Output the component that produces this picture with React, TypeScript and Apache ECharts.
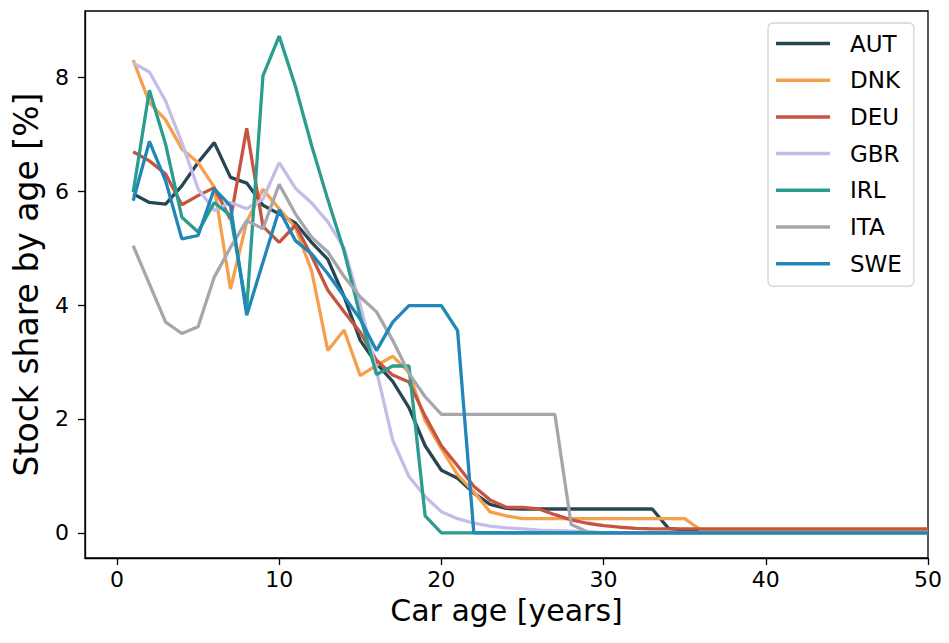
import React, { useEffect, useRef } from "react";
import * as echarts from "echarts";

const ages: number[] = Array.from({ length: 50 }, (_, i) => i + 1);

const countries = ["AUT", "DNK", "DEU", "GBR", "IRL", "ITA", "SWE"];

const AUT = [5.95, 5.8, 5.77, 6.09, 6.5, 6.85, 6.24, 6.14, 5.75, 5.6, 5.44, 5.1, 4.8, 4.15, 3.38, 2.97, 2.66, 2.2, 1.53, 1.1, 0.96, 0.7, 0.5, 0.43,
  0.42, 0.42, 0.42, 0.42, 0.42, 0.42, 0.42, 0.42, 0.42, 0.08,
  0.05, 0.05, 0.05, 0.05, 0.05, 0.05, 0.05, 0.05, 0.05, 0.05, 0.05, 0.05, 0.05, 0.05, 0.05, 0.05];
const DNK = [8.3, 7.55, 7.25, 6.74, 6.5, 6.07, 4.28, 5.46, 6.03, 5.69, 5.36, 4.6, 3.2, 3.56, 2.76, 2.94, 3.1, 2.82, 1.97, 1.48, 1.02, 0.72, 0.37, 0.3,
  0.25, 0.25, 0.25, 0.25, 0.25, 0.25, 0.25, 0.25, 0.25, 0.25, 0.25,
  0.05, 0.05, 0.05, 0.05, 0.05, 0.05, 0.05, 0.05, 0.05, 0.05, 0.05, 0.05, 0.05, 0.05, 0.05];
const DEU = [6.69, 6.53, 6.3, 5.76, 5.92, 6.06, 5.5, 7.1, 5.38, 5.1, 5.4, 4.86, 4.26, 3.88, 3.52, 3.03, 2.77, 2.65, 2.05, 1.53, 1.18, 0.82, 0.58, 0.45,
  0.45, 0.42, 0.32, 0.23, 0.17, 0.13, 0.1, 0.08,
  0.07, 0.07, 0.07, 0.07, 0.07, 0.07, 0.07, 0.07, 0.07, 0.07, 0.07, 0.07, 0.07, 0.07, 0.07, 0.07, 0.07, 0.07];
const GBR = [8.25, 8.09, 7.58, 6.85, 6.04, 5.66, 5.8, 5.69, 5.86, 6.5, 6.05, 5.79, 5.46, 5.0, 4.0, 2.85, 1.63, 0.99, 0.64, 0.37, 0.25, 0.17, 0.12, 0.09,
  0.07, 0.05, 0.04, 0.03, 0.02,
  0, 0, 0, 0, 0, 0, 0, 0, 0, 0, 0, 0, 0, 0, 0, 0, 0, 0, 0, 0, 0];
const IRL = [5.98, 7.77, 6.82, 5.54, 5.28, 5.8, 5.57, 3.95, 8.02, 8.72, 7.84, 6.8, 5.85, 4.95, 3.8, 2.78, 2.93, 2.93, 0.3,
  0, 0, 0, 0, 0, 0, 0, 0, 0, 0, 0, 0, 0, 0, 0, 0, 0, 0, 0, 0, 0, 0, 0, 0, 0, 0, 0, 0, 0, 0, 0, 0];
const ITA = [5.04, 4.37, 3.7, 3.5, 3.62, 4.49, 5.01, 5.48, 5.34, 6.12, 5.6, 5.19, 4.93, 4.5, 4.14, 3.88, 3.38, 2.8, 2.39, 2.08,
  2.08, 2.08, 2.08, 2.08, 2.08, 2.08, 2.08, 0.15, 0.02,
  0, 0, 0, 0, 0, 0, 0, 0, 0, 0, 0, 0, 0, 0, 0, 0, 0, 0, 0, 0, 0];
const SWE = [5.83, 6.87, 6.18, 5.16, 5.22, 6.04, 5.74, 3.82, 4.75, 5.67, 5.13, 4.9, 4.55, 4.15, 3.75, 3.2, 3.7, 3.99, 3.99, 3.99, 3.55,
  0, 0, 0, 0, 0, 0, 0, 0, 0, 0, 0, 0, 0, 0, 0, 0, 0, 0, 0, 0, 0, 0, 0, 0, 0, 0, 0, 0, 0];

const seriesValues = [AUT, DNK, DEU, GBR, IRL, ITA, SWE];
const colors = ["#264653", "#f4a04f", "#c55540", "#c5bde8", "#2a9d8f", "#a7a6ab", "#2187b8"];

const xTicks = [0, 10, 20, 30, 40, 50];
const yTicks = [0, 2, 4, 6, 8];

const FONT = "DejaVu Sans";

export default function App() {
  const ref = useRef<HTMLDivElement>(null);
  useEffect(() => {
    if (!ref.current) return;
    const chart = echarts.init(ref.current, undefined, { renderer: "svg" });
    chart.setOption({
      animation: false,
      backgroundColor: "#ffffff",
      grid: {
        left: 85,
        right: 21,
        top: 11,
        bottom: 85,
        show: true,
        borderColor: "#000000",
        borderWidth: 1.3,
        backgroundColor: "transparent",
      },
      legend: {
        orient: "vertical",
        left: 768,
        top: 23,
        padding: [9, 12, 11, 8],
        itemGap: 13.7,
        itemWidth: 54,
        itemHeight: 3.5,
        icon: "rect",
        backgroundColor: "rgba(255,255,255,0.8)",
        borderColor: "#d4d4d4",
        borderWidth: 1.3,
        borderRadius: 5,
        data: countries,
        textStyle: {
          fontFamily: FONT,
          fontSize: 23,
          lineHeight: 22,
          color: "#000",
          padding: [0, 0, 0, 15],
        },
      },
      xAxis: {
        type: "value",
        min: -1.97,
        max: 50,
        name: "Car age [years]",
        nameLocation: "middle",
        nameGap: 37,
        nameTextStyle: { fontFamily: FONT, fontSize: 30, color: "#000" },
        axisLine: { show: true, onZero: false, lineStyle: { color: "#000", width: 1.3 } },
        axisTick: { show: true, length: 7, lineStyle: { color: "#000", width: 1.3 }, customValues: xTicks },
        axisLabel: { fontFamily: FONT, fontSize: 22, color: "#000", margin: 10, customValues: xTicks },
        splitLine: { show: false },
      },
      yAxis: {
        type: "value",
        min: -0.44,
        max: 9.16,
        name: "Stock share by age [%]",
        nameLocation: "middle",
        nameRotate: 90,
        nameGap: 42,
        nameTextStyle: { fontFamily: FONT, fontSize: 33, color: "#000" },
        axisLine: { show: true, onZero: false, lineStyle: { color: "#000", width: 1.3 } },
        axisTick: { show: true, length: 7, lineStyle: { color: "#000", width: 1.3 }, customValues: yTicks },
        axisLabel: { fontFamily: FONT, fontSize: 22, color: "#000", margin: 16, customValues: yTicks },
        splitLine: { show: false },
      },
      series: countries.map((name, i) => ({
        name,
        type: "line",
        data: ages.map((a, j) => [a, seriesValues[i][j]]),
        showSymbol: false,
        symbol: "none",
        lineStyle: { color: colors[i], width: 3.3 },
        itemStyle: { color: colors[i] },
        z: 2 + i,
      })),
    });
    return () => chart.dispose();
  }, []);
  return (
    <div
      ref={ref}
      style={{ position: "absolute", left: 0, top: 0, width: 949, height: 643 }}
    />
  );
}
